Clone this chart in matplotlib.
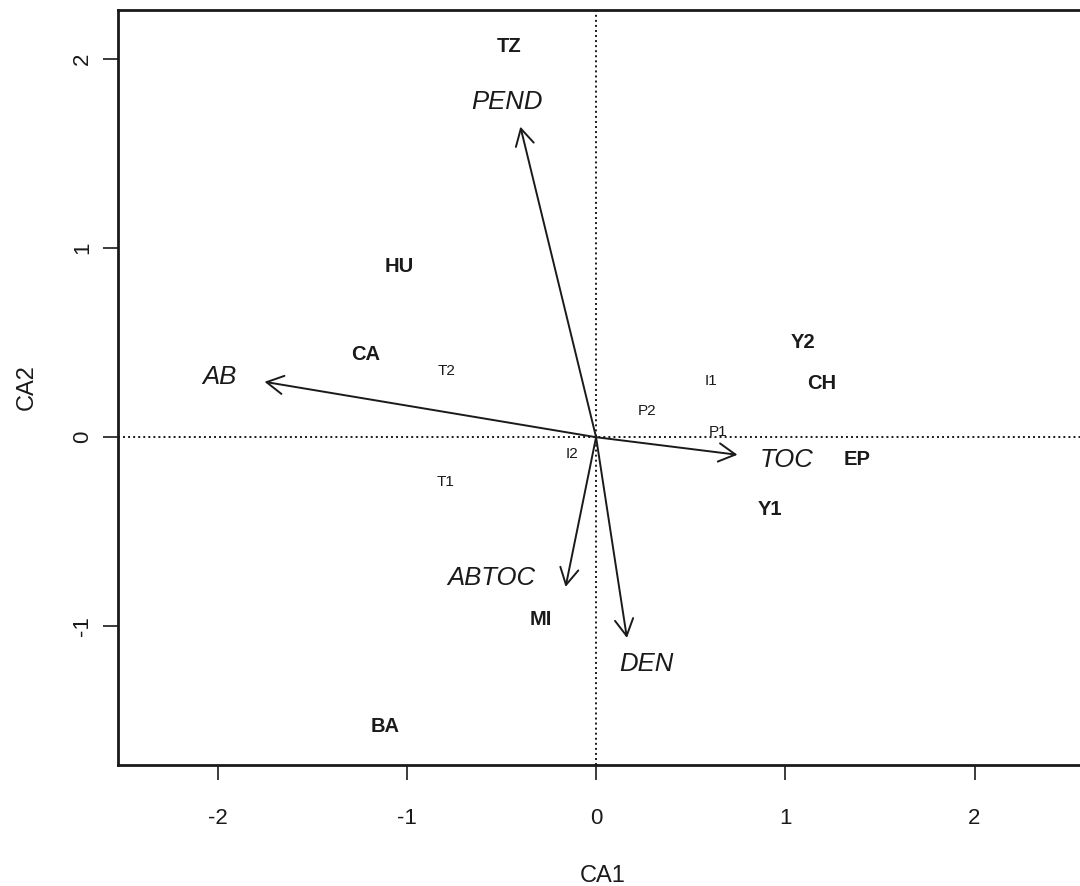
import matplotlib
matplotlib.use("Agg")
import matplotlib.pyplot as plt
from matplotlib.patches import FancyArrowPatch

plt.rcParams["font.family"] = ["Liberation Sans", "DejaVu Sans"]

# Site scores (bold labels)
sites = ["TZ", "HU", "CA", "Y2", "CH", "EP", "Y1", "MI", "BA"]
site_x = [-0.457, -1.038, -1.218, 1.096, 1.192, 1.382, 0.918, -0.294, -1.116]
site_y = [2.066, 0.905, 0.440, 0.499, 0.282, -0.120, -0.380, -0.962, -1.528]

# Treatment scores (small plain labels)
treats = ["T2", "P2", "I1", "P1", "I2", "T1"]
treat_x = [-0.79, 0.267, 0.605, 0.642, -0.125, -0.796]
treat_y = [0.351, 0.139, 0.298, 0.028, -0.088, -0.237]

# Environmental vectors: arrow tips and label positions
env = ["AB", "PEND", "TOC", "ABTOC", "DEN"]
env_x = [-1.752, -0.40, 0.747, -0.161, 0.163]
env_y = [0.293, 1.643, -0.093, -0.792, -1.062]
env_lab_x = [-1.99, -0.473, 1.005, -0.553, 0.267]
env_lab_y = [0.318, 1.774, -0.120, -0.744, -1.202]

x_ticks = [-2, -1, 0, 1, 2]
y_ticks = [-1, 0, 1, 2]

ink = "#1a1a1a"

fig = plt.figure(figsize=(10.8, 8.86), dpi=100)
ax = fig.add_axes([0.1093, 0.1366, 0.8982, 0.8521])
ax.set_xlim(-2.526, 2.6)
ax.set_ylim(-1.734, 2.26)

# dotted reference lines through the origin
ax.axhline(0, color=ink, lw=1.4, ls=(0, (1, 1.6)), zorder=1)
ax.axvline(0, color=ink, lw=1.4, ls=(0, (1, 1.6)), zorder=1)

for name, x, y, lx, ly in zip(env, env_x, env_y, env_lab_x, env_lab_y):
    arr = FancyArrowPatch((0, 0), (x, y), arrowstyle="->, head_length=0.6, head_width=0.33",
                          mutation_scale=20, lw=1.4, color=ink, shrinkA=0, shrinkB=0, zorder=3)
    ax.add_patch(arr)
    ax.text(lx, ly, name, fontsize=18.5, style="italic", color=ink,
            ha="center", va="center")

for name, x, y in zip(sites, site_x, site_y):
    ax.text(x, y, name, fontsize=14.5, fontweight="bold", color=ink,
            ha="center", va="center")

for name, x, y in zip(treats, treat_x, treat_y):
    ax.text(x, y, name, fontsize=11, color=ink, ha="center", va="center")

ax.set_xticks(x_ticks)
ax.set_xticklabels([str(v) for v in x_ticks])
ax.set_yticks(y_ticks)
ax.set_yticklabels([str(v) for v in y_ticks], rotation=90, va="center")
ax.tick_params(axis="both", direction="out", length=11, width=1.2, color=ink,
               labelsize=16, labelcolor=ink)
ax.tick_params(axis="x", pad=20)
ax.tick_params(axis="y", pad=7)
ax.set_xlabel("CA1", fontsize=17, color=ink, labelpad=26)
ax.set_ylabel("CA2", fontsize=17, color=ink, labelpad=25)

for side in ["left", "bottom", "top"]:
    ax.spines[side].set_linewidth(2)
    ax.spines[side].set_color(ink)
ax.spines["right"].set_visible(False)

fig.savefig("out.png", dpi=100)
